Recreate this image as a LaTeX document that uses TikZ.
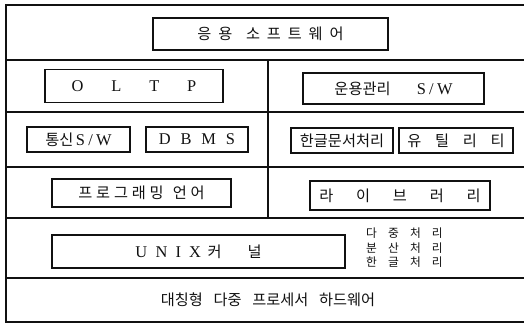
\documentclass[tikz,border=0pt]{standalone}
\usepackage{fontspec}
\usepackage{xcolor}
\usepackage{tikz}
\usetikzlibrary{calc}
\setmainfont{Liberation Serif}
\newfontfamily\kr{Noto Sans CJK KR}
\newfontfamily\krw[LetterSpace=45]{Noto Sans CJK KR}
\newfontfamily\krm[LetterSpace=25]{Noto Sans CJK KR}
\newfontfamily\krn[LetterSpace=95]{Noto Sans CJK KR}
\definecolor{ink}{HTML}{111111}
\definecolor{paper}{HTML}{FFFFFF}
\tikzset{
  rule/.style={draw=ink, line width=1.1pt, line cap=round},
  layer/.style 2 args={draw=ink, line width=1.0pt, inner sep=0pt, text=ink,
    minimum width=#1*0.03cm, minimum height=#2*0.03cm, font=\fontsize{14}{16}\selectfont},
  note/.style={text=ink, inner sep=0pt, font=\krn\fontsize{10}{12.3}\selectfont, align=left},
  lab/.style={text=ink, inner sep=0pt, font=\fontsize{13}{15}\selectfont},
}
\newcommand\hg[1]{{\fontsize{13}{15}\selectfont#1}}

\begin{document}
\begin{tikzpicture}[x=0.03cm,y=-0.03cm]
  \useasboundingbox[fill=paper] (0,0) rectangle (524,325);

  % frame and rows
  \coordinate (tl) at (6,5);
  \coordinate (bl) at (6,322);
  \draw[rule] (524,5) -- (tl) -- (bl) -- (524,322);
  \foreach \y in {60,112,167,218,278}
    \draw[rule] (6,\y) -- (524,\y);
  \coordinate (mt) at (268,60);
  \coordinate (mb) at (268,218);
  \draw[rule] (mt) -- (mb);

  % boxes
  \node[layer={235}{32}] (app) at (270.5,34) {\hg{\krw 응용\hspace{0.9em}소프트웨어}};
  \node[layer={178}{33}] (oltp) at (134,86) {O\hspace{1.7em}L\hspace{1.7em}T\hspace{1.7em}P};
  \node[layer={181}{31}] (opsw) at (393.5,88.5) {\hg{\kr 운용관리}\hspace{1.6em}S\hspace{0.2em}/\hspace{0.2em}W};
  \node[layer={103}{25}] (comm) at (78.5,139.5) {\hg{\kr 통신}\hspace{0.15em}S\hspace{0.2em}/\hspace{0.2em}W};
  \node[layer={102}{25}] (dbms) at (197,139.5) {D\hspace{0.6em}B\hspace{0.6em}M\hspace{0.6em}S};
  \node[layer={102}{25}] (hwp) at (342,140.5) {\hg{\kr 한글문서처리}};
  \node[layer={114}{25}] (util) at (456,140.5) {\hg{\kr 유\hspace{0.9em}틸\hspace{0.9em}리\hspace{0.9em}티}};
  \node[layer={179}{28}] (prog) at (141.5,193) {\hg{\krm 프로그래밍\hspace{0.6em}언어}};
  \node[layer={180}{29}] (lib) at (400,195.5) {\hg{\kr 라\hspace{1.5em}이\hspace{1.5em}브\hspace{1.5em}러\hspace{1.5em}리}};
  \node[layer={293}{33}] (unix) at (198.5,251.5) {U\hspace{0.5em}N\hspace{0.5em}I\hspace{0.5em}X\hspace{0.4em}\hg{\kr 커\hspace{1.7em}널}};

  \node[note, anchor=west] (kern) at (366,248) {다중처리\\분산처리\\한글처리};
  \node[lab] (hw) at (268,300) {\kr 대칭형\hspace{0.7em}다중\hspace{0.7em}프로세서\hspace{0.7em}하드웨어};
\end{tikzpicture}
\end{document}
